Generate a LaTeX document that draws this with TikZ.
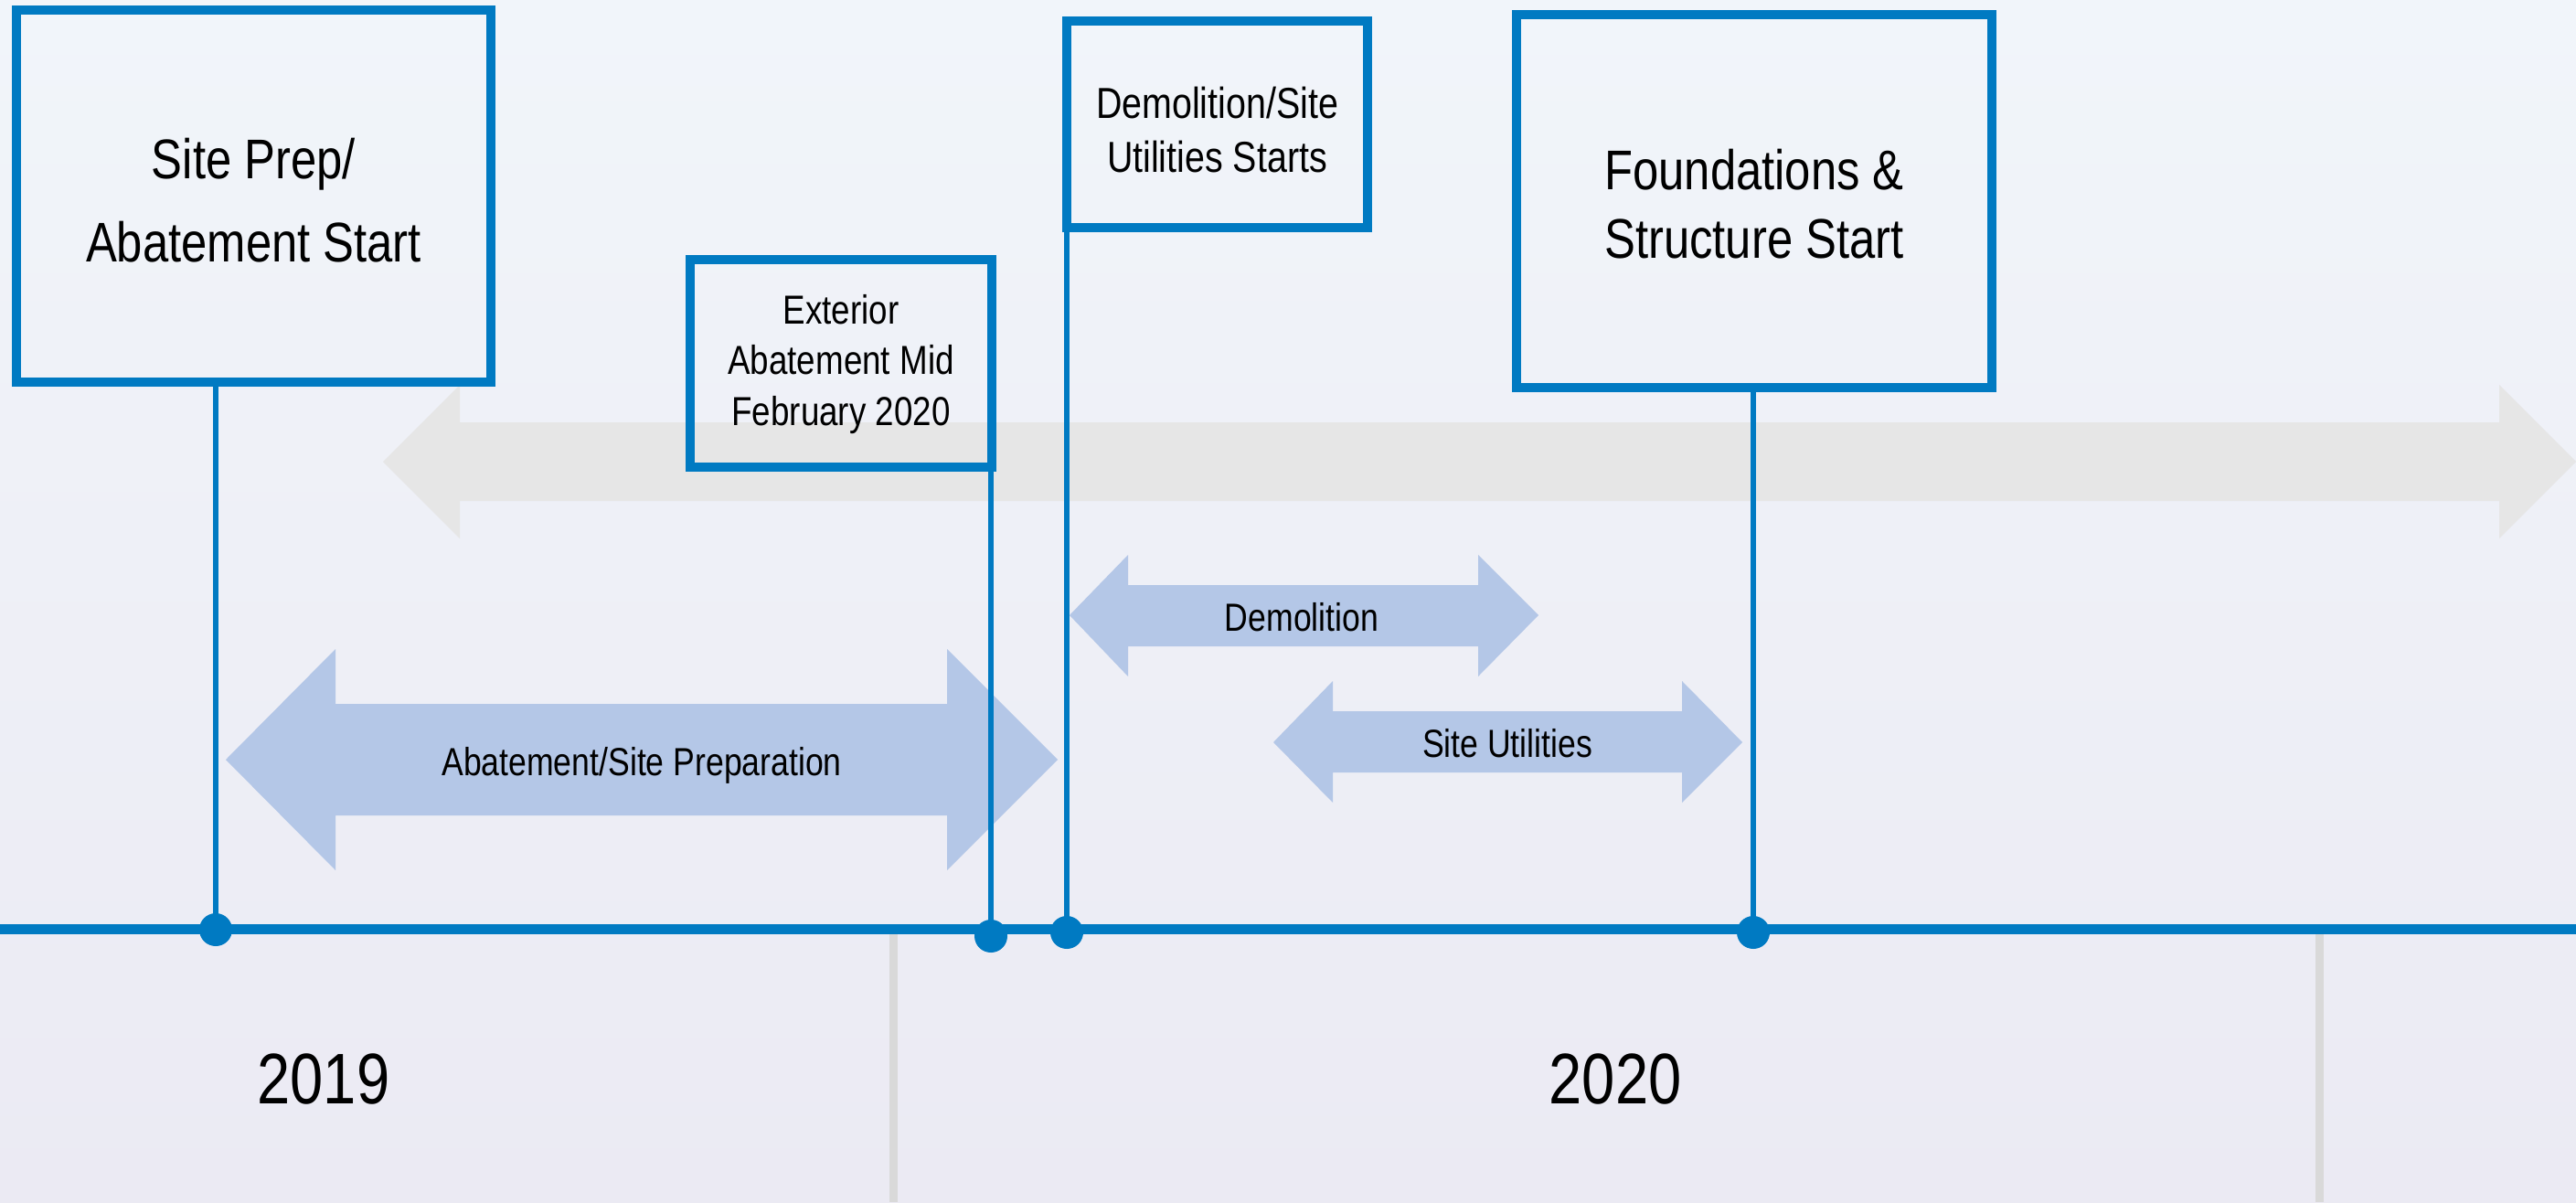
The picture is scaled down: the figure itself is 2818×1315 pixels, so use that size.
\documentclass[tikz,border=0pt]{standalone}
\usepackage{fontspec}
\setmainfont{Liberation Sans}[FakeStretch=0.83]
\usepackage{tikz}

\definecolor{tlblue}{RGB}{0,122,194}
\definecolor{graybar}{RGB}{230,230,230}
\definecolor{phaseblue}{RGB}{180,199,231}
\definecolor{divgray}{RGB}{217,217,217}
\definecolor{bgtop}{RGB}{241,245,250}
\definecolor{bgbot}{RGB}{235,234,243}

\tikzset{
  milestone/.style={draw=tlblue,line width=1mm,inner sep=0pt},
  boxtext/.style={inner sep=0pt,align=center},
  dropline/.style={draw=tlblue,line width=0.6mm},
  eventdot/.style={circle,fill=tlblue,inner sep=0pt,minimum size=3.6mm},
  phasearrow/.style={fill=phaseblue},
  phaselabel/.style={font=\fontsize{12.2}{14}\selectfont,anchor=base},
  yearlabel/.style={font=\fontsize{22.3}{26}\selectfont,anchor=base},
}

\begin{document}
\begin{tikzpicture}[x=0.01cm,y=-0.01cm,line join=miter]
                  \useasboundingbox (0,0) rectangle (2818,1315);
                  \shade[top color=bgtop,bottom color=bgbot] (0,0) rectangle (2818,1315);
                  % long grey band behind everything
                  \fill[graybar] (419,505) -- (503,421) -- (503,462) -- (2734,462) -- (2734,421) -- (2818,505) -- (2734,589) -- (2734,548) -- (503,548) -- (503,589) -- cycle;
                  % phase arrows
                  \fill[phasearrow] (247,831) -- (367,710) -- (367,770) -- (1036,770) -- (1036,710) -- (1157,831) -- (1036,952) -- (1036,892) -- (367,892) -- (367,952) -- cycle;
                  \fill[phasearrow] (1170,673) -- (1234,607) -- (1234,640) -- (1617,640) -- (1617,607) -- (1683,673) -- (1617,740) -- (1617,707) -- (1234,707) -- (1234,740) -- cycle;
                  \fill[phasearrow] (1393,812) -- (1458,745) -- (1458,778) -- (1840,778) -- (1840,745) -- (1906,812) -- (1840,878) -- (1840,845) -- (1458,845) -- (1458,878) -- cycle;
                  \node[phaselabel] (abl) at (702,848) {Abatement/Site Preparation};
                  \node[phaselabel] (dml) at (1424,690) {Demolition};
                  \node[phaselabel] (sul) at (1649,828) {Site Utilities};
                  % year dividers
                  \draw[divgray,line width=0.9mm] (977,1016) -- (977,1315);
                  \draw[divgray,line width=0.9mm] (2537,1016) -- (2537,1315);
                  \node[yearlabel] (y19) at (354,1207) {2019};
                  \node[yearlabel] (y20) at (1767,1207) {2020};
                  % timeline
                  \coordinate (tlw) at (0,1016.5);
                  \coordinate (tle) at (2818,1016.5);
                  \draw[tlblue,line width=1.1mm] (tlw) -- (tle);
                  % milestones
                  \node[milestone,minimum width=5.19cm,minimum height=4.07cm] (site) at (277.5,214.5) {};
                  \node[milestone,minimum width=3.305cm,minimum height=2.27cm] (ext) at (920,397.5) {};
                  \node[milestone,minimum width=3.29cm,minimum height=2.26cm] (demo) at (1331.5,136) {};
                  \node[milestone,minimum width=5.2cm,minimum height=4.075cm] (found) at (1919,220) {};
                  \node[boxtext,font=\fontsize{17.4}{25.9}\selectfont] (sitetxt) at ([yshift=-0.5mm]site.center) {Site Prep/\\Abatement Start};
                  \node[boxtext,font=\fontsize{12.6}{15.9}\selectfont] (exttxt) at ([yshift=-0.1mm]ext.center) {Exterior\\Abatement Mid\\February 2020};
                  \node[boxtext,font=\fontsize{13.5}{16.8}\selectfont] (demotxt) at ([yshift=-0.6mm]demo.center) {Demolition/Site\\Utilities Starts};
                  \node[boxtext,font=\fontsize{17.4}{21.5}\selectfont] (foundtxt) at ([yshift=-0.3mm]found.center) {Foundations \&\\Structure Start};
                  \node[eventdot] (d1) at (236,1017) {};
                  \node[eventdot] (d2) at (1084,1024) {};
                  \node[eventdot] (d3) at (1167,1020) {};
                  \node[eventdot] (d4) at (1918,1020) {};
                  \draw[dropline] (site.south -| d1) -- (d1.center);
                  \draw[dropline] (ext.south -| d2) -- (d2.center);
                  \draw[dropline] (demo.south -| d3) -- (d3.center);
                  \draw[dropline] (found.south -| d4) -- (d4.center);
\end{tikzpicture}
\end{document}
